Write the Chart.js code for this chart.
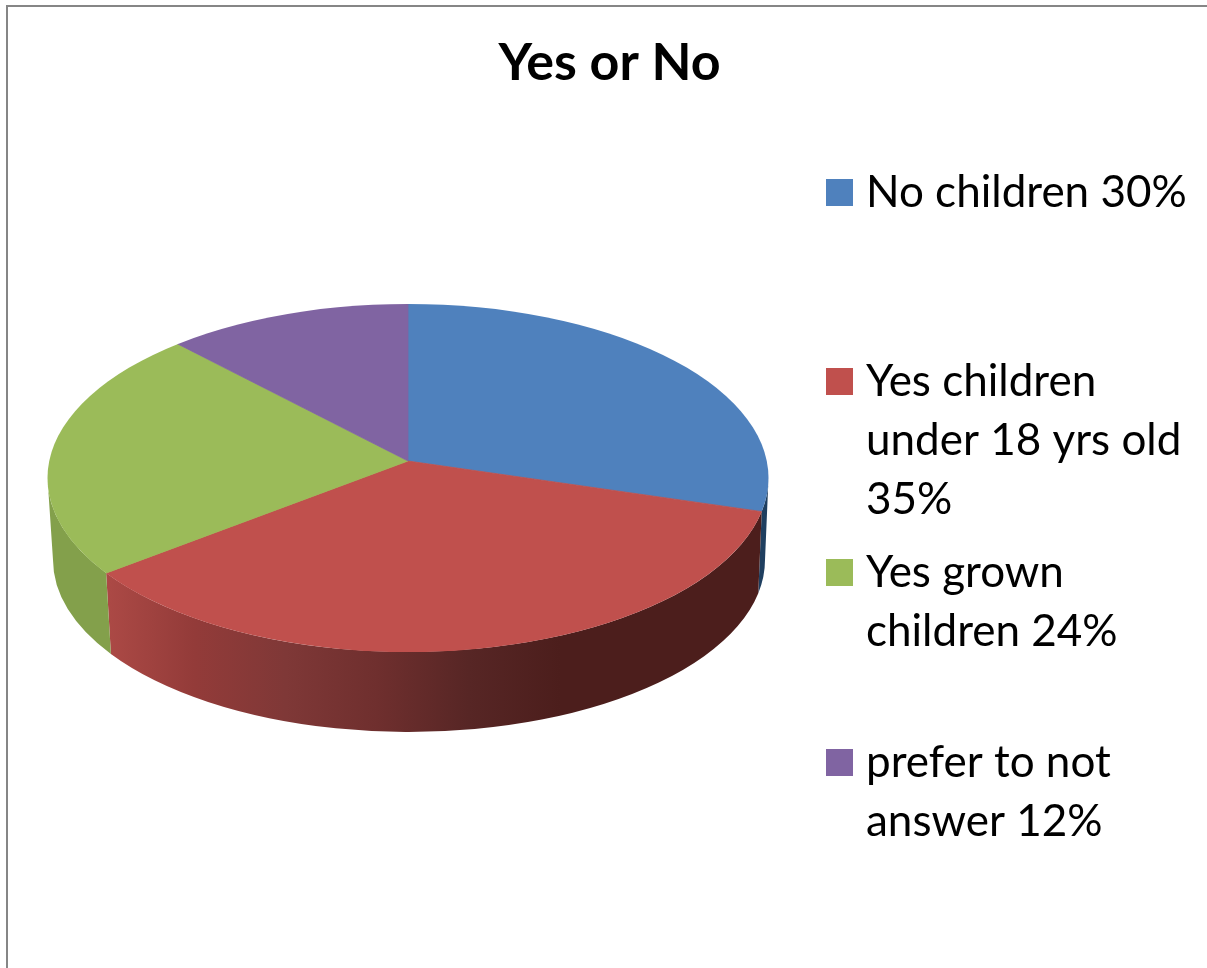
<!DOCTYPE html>
<html>
<head>
<meta charset="utf-8">
<title>Yes or No</title>
<script src="https://cdn.jsdelivr.net/npm/chart.js@4/dist/chart.umd.js"></script>
<style>
  html, body { margin: 0; padding: 0; background: #fff; overflow: hidden; }
  #frame { position: absolute; left: 6px; top: 5px; right: 0; bottom: 0; border-left: 2px solid #868686; border-top: 2px solid #868686; }
  canvas { position: absolute; left: 0; top: 0; }
</style>
</head>
<body>
<div id="frame"></div>
<canvas id="pie" width="1207" height="968"></canvas>
<script>
const chartTitle = "Yes or No";
const categories = ["No children", "Yes children under 18 yrs old", "Yes grown children", "prefer to not answer"];
const shares = [30, 35, 24, 12];

// how each legend entry breaks across lines
const legendLines = [
  ["No children 30%"],
  ["Yes children", "under 18 yrs old", "35%"],
  ["Yes grown", "children 24%"],
  ["prefer to not", "answer 12%"],
];

const topColors = ["#4f81bd", "#c0504d", "#9bbb59", "#8064a2"];
const wallStops = [
  ["#1f3f60", "#1f3f60"],
  ["#ad4a46", "#933b39", "#7f3837", "#6f2f2e", "#572625", "#4c1e1c"],
  ["#83a04b", "#87a24e"],
  ["#5f4a7a", "#5f4a7a"],
];

const FONT = "Lato, Carlito, sans-serif";

// tilted disc geometry
const apex = { x: 408, y: 461 };
const tilt = 0.47;
const topRim = { x: 408, y: 478, rx: 360.5, ry: 174 };
const bottomRim = { x: 409, y: 560, rx: 356, ry: 172 };

// where a slice edge leaving the apex hits the top rim, as an ellipse parameter
function rimParam(angle) {
  const dx = Math.cos(angle) / topRim.rx;
  const dy = Math.sin(angle) * tilt / topRim.ry;
  const ox = (apex.x - topRim.x) / topRim.rx;
  const oy = (apex.y - topRim.y) / topRim.ry;
  const a = dx * dx + dy * dy;
  const b = 2 * (ox * dx + oy * dy);
  const c = ox * ox + oy * oy - 1;
  const t = (-b + Math.sqrt(b * b - 4 * a * c)) / (2 * a);
  let p = Math.atan2(oy + t * dy, ox + t * dx);
  if (p < -Math.PI / 2 - 1e-6) p += Math.PI * 2;
  return p;
}

const tiltedPie = {
  id: "tiltedPie",
  beforeDatasetsDraw(chart) {
    const ctx = chart.ctx;
    const arcs = chart.getDatasetMeta(0).data;

    // side wall first, only the part facing the viewer
    arcs.forEach((arc, i) => {
      let from = rimParam(arc.startAngle);
      let to = rimParam(arc.endAngle);
      if (to <= from) to += Math.PI * 2;
      from = Math.max(from, 0);
      to = Math.min(to, Math.PI);
      if (to <= from) return;

      const grad = ctx.createLinearGradient(103, 0, 560, 0);
      wallStops[i].forEach((c, j) => grad.addColorStop(j / (wallStops[i].length - 1), c));
      ctx.save();
      ctx.fillStyle = grad;
      ctx.beginPath();
      ctx.ellipse(topRim.x, topRim.y, topRim.rx, topRim.ry, 0, from, to);
      ctx.ellipse(bottomRim.x, bottomRim.y, bottomRim.rx, bottomRim.ry, 0, to, from, true);
      ctx.closePath();
      ctx.fill();
      ctx.restore();
    });

    // squash the slices onto the top face
    const first = arcs[0];
    ctx.save();
    ctx.beginPath();
    ctx.ellipse(topRim.x, topRim.y, topRim.rx, topRim.ry, 0, 0, Math.PI * 2);
    ctx.clip();
    ctx.translate(apex.x, apex.y);
    ctx.scale(1, tilt);
    ctx.translate(-first.x, -first.y);
  },
  afterDatasetsDraw(chart) {
    chart.ctx.restore();
  },
  afterDraw(chart) {
    const ctx = chart.ctx;
    const baselines = [207, 396, 587, 777];
    ctx.save();
    ctx.font = "44px " + FONT;
    ctx.textAlign = "left";
    ctx.textBaseline = "alphabetic";
    legendLines.forEach((lines, i) => {
      ctx.fillStyle = topColors[i];
      ctx.fillRect(826, baselines[i] - 28, 27, 27);
      ctx.fillStyle = "#000";
      lines.forEach((line, j) => ctx.fillText(line, 866, baselines[i] + j * 59));
    });
    ctx.restore();
  },
};

new Chart(document.getElementById("pie"), {
  type: "pie",
  data: {
    labels: categories,
    datasets: [{
      data: shares,
      backgroundColor: topColors,
      borderColor: topColors,
      borderWidth: 1,
      clip: false,
    }],
  },
  options: {
    responsive: false,
    animation: false,
    layout: { padding: { left: 12 } },
    plugins: {
      legend: { display: false },
      tooltip: { enabled: false },
      title: {
        display: true,
        text: chartTitle,
        color: "#000",
        font: { family: FONT, size: 52, weight: "bold" },
        padding: { top: 32, bottom: 10 },
      },
    },
  },
  plugins: [tiltedPie],
});
</script>
</body>
</html>
